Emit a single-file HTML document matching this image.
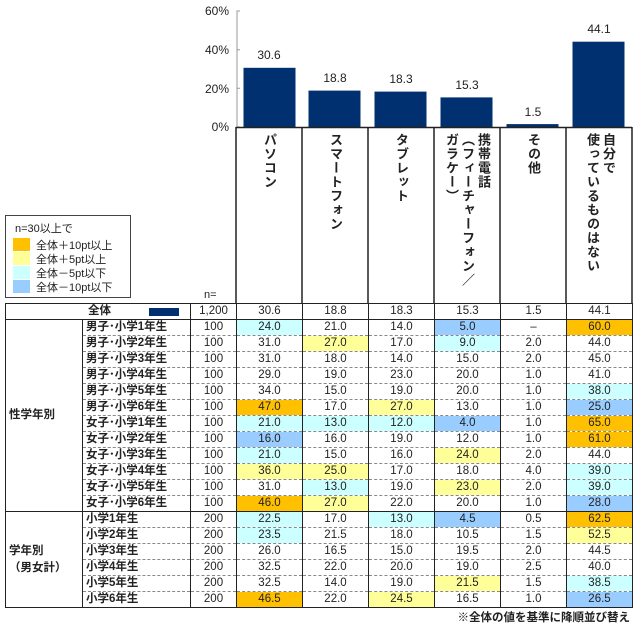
<!DOCTYPE html>
<html><head><meta charset="utf-8"><style>
body{margin:0;width:638px;height:625px;background:#fff;position:relative;overflow:hidden;font-family:"Liberation Sans","Noto Sans CJK JP",sans-serif;color:#222}
table{position:absolute;left:5px;top:303px;border-collapse:collapse;table-layout:fixed;font-size:11.5px}
td{height:15px;padding:0;border-left:1.5px solid #222;border-right:1.5px solid #222;border-bottom:1px dashed #888;text-align:center;line-height:15px;white-space:nowrap;overflow:hidden}
td.l{text-align:left;padding-left:3px;font-weight:bold}
td.g{text-align:left;padding-left:3px;font-weight:bold;border-bottom:1.5px solid #222;line-height:17px}
tr.top td{border-top:1.5px solid #222;border-bottom:1.5px solid #222}
tr.last td{border-bottom:1.5px solid #222}
.o{background:#FFC000}.y{background:#FFFF99}.c{background:#CCFFFF}.b{background:#99CCFF}
.hd{position:absolute;top:133px;writing-mode:vertical-rl;font-size:13px;font-weight:bold;line-height:16px;letter-spacing:1px;white-space:nowrap}
</style></head><body>
<svg width="638" height="305" style="position:absolute;left:0;top:0" font-family="Liberation Sans, Noto Sans CJK JP, sans-serif">
<g font-size="12" fill="#222" text-anchor="end">
<text x="229" y="15">60%</text><text x="229" y="54">40%</text><text x="229" y="93">20%</text><text x="229" y="131">0%</text>
</g>
<path d="M240 11H237V127M237 49.7H240M237 88.3H240M237 127H240" stroke="#999" fill="none"/>
<g fill="#003070">
<rect x="243.5" y="67.8" width="52" height="59.2"/>
<rect x="308.5" y="90.6" width="52" height="36.4"/>
<rect x="374.5" y="91.6" width="52" height="35.4"/>
<rect x="440.5" y="97.4" width="52" height="29.6"/>
<rect x="506.5" y="124.1" width="52" height="2.9"/>
<rect x="572.5" y="41.7" width="52" height="85.3"/>
</g>
<g font-size="12" fill="#222" text-anchor="middle">
<text x="269" y="59">30.6</text><text x="335" y="82">18.8</text><text x="401" y="83">18.3</text><text x="467" y="89">15.3</text><text x="533" y="116">1.5</text><text x="599" y="33">44.1</text>
</g>
<path d="M236 127V303M302 127V303M368 127V303M434 127V303M500 127V303M566 127V303M632 127V303M236 127.5H632" stroke="#222" stroke-width="1.5" fill="none"/>
<text x="204" y="298" font-size="11" fill="#222">n=</text>
<rect x="5.5" y="215.5" width="125" height="82" fill="#fff" stroke="#444"/>
<g font-size="11" fill="#222">
<text x="15" y="232">n=30以上で</text>
<rect x="13" y="238" width="17" height="13" fill="#FFC000"/><text x="36" y="249">全体＋10pt以上</text>
<rect x="13" y="252" width="17" height="13" fill="#FFFF99"/><text x="36" y="263">全体＋5pt以上</text>
<rect x="13" y="266" width="17" height="13" fill="#CCFFFF"/><text x="36" y="277">全体－5pt以下</text>
<rect x="13" y="280" width="17" height="13" fill="#99CCFF"/><text x="36" y="291">全体－10pt以下</text>
</g>
</svg>
<div class="hd" style="left:261px">パソコン</div>
<div class="hd" style="left:327px">スマートフォン</div>
<div class="hd" style="left:393px">タブレット</div>
<div class="hd" style="left:443px">携帯電話<br>（フィーチャーフォン／<br>ガラケー）</div>
<div class="hd" style="left:584px">自分で<br>使っているものはない</div>
<div class="hd" style="left:525px">その他</div>
<table>
<colgroup><col style="width:77px"><col style="width:108px"><col style="width:46px"><col style="width:66px"><col style="width:66px"><col style="width:66px"><col style="width:66px"><col style="width:66px"><col style="width:66px"></colgroup>
<tr class="top"><td colspan="2" style="text-align:left;padding-left:82px;font-weight:bold;position:relative">全体<span style="position:absolute;left:143px;top:4px;width:30px;height:8px;background:#003070"></span></td><td>1,200</td><td>30.6</td><td>18.8</td><td>18.3</td><td>15.3</td><td>1.5</td><td>44.1</td></tr>
<tr><td class="g" rowspan="12">性学年別</td><td class="l">男子･小学1年生</td><td>100</td><td class="c">24.0</td><td>21.0</td><td>14.0</td><td class="b">5.0</td><td>–</td><td class="o">60.0</td></tr>
<tr><td class="l">男子･小学2年生</td><td>100</td><td>31.0</td><td class="y">27.0</td><td>17.0</td><td class="c">9.0</td><td>2.0</td><td>44.0</td></tr>
<tr><td class="l">男子･小学3年生</td><td>100</td><td>31.0</td><td>18.0</td><td>14.0</td><td>15.0</td><td>2.0</td><td>45.0</td></tr>
<tr><td class="l">男子･小学4年生</td><td>100</td><td>29.0</td><td>19.0</td><td>23.0</td><td>20.0</td><td>1.0</td><td>41.0</td></tr>
<tr><td class="l">男子･小学5年生</td><td>100</td><td>34.0</td><td>15.0</td><td>19.0</td><td>20.0</td><td>1.0</td><td class="c">38.0</td></tr>
<tr><td class="l">男子･小学6年生</td><td>100</td><td class="o">47.0</td><td>17.0</td><td class="y">27.0</td><td>13.0</td><td>1.0</td><td class="b">25.0</td></tr>
<tr><td class="l">女子･小学1年生</td><td>100</td><td class="c">21.0</td><td class="c">13.0</td><td class="c">12.0</td><td class="b">4.0</td><td>1.0</td><td class="o">65.0</td></tr>
<tr><td class="l">女子･小学2年生</td><td>100</td><td class="b">16.0</td><td>16.0</td><td>19.0</td><td>12.0</td><td>1.0</td><td class="o">61.0</td></tr>
<tr><td class="l">女子･小学3年生</td><td>100</td><td class="c">21.0</td><td>15.0</td><td>16.0</td><td class="y">24.0</td><td>2.0</td><td>44.0</td></tr>
<tr><td class="l">女子･小学4年生</td><td>100</td><td class="y">36.0</td><td class="y">25.0</td><td>17.0</td><td>18.0</td><td>4.0</td><td class="c">39.0</td></tr>
<tr><td class="l">女子･小学5年生</td><td>100</td><td>31.0</td><td class="c">13.0</td><td>19.0</td><td class="y">23.0</td><td>2.0</td><td class="c">39.0</td></tr>
<tr class="last"><td class="l">女子･小学6年生</td><td>100</td><td class="o">46.0</td><td class="y">27.0</td><td>22.0</td><td>20.0</td><td>1.0</td><td class="b">28.0</td></tr>
<tr><td class="g" rowspan="6">学年別<br>（男女計）</td><td class="l">小学1年生</td><td>200</td><td class="c">22.5</td><td>17.0</td><td class="c">13.0</td><td class="b">4.5</td><td>0.5</td><td class="o">62.5</td></tr>
<tr><td class="l">小学2年生</td><td>200</td><td class="c">23.5</td><td>21.5</td><td>18.0</td><td>10.5</td><td>1.5</td><td class="y">52.5</td></tr>
<tr><td class="l">小学3年生</td><td>200</td><td>26.0</td><td>16.5</td><td>15.0</td><td>19.5</td><td>2.0</td><td>44.5</td></tr>
<tr><td class="l">小学4年生</td><td>200</td><td>32.5</td><td>22.0</td><td>20.0</td><td>19.0</td><td>2.5</td><td>40.0</td></tr>
<tr><td class="l">小学5年生</td><td>200</td><td>32.5</td><td>14.0</td><td>19.0</td><td class="y">21.5</td><td>1.5</td><td class="c">38.5</td></tr>
<tr class="last"><td class="l">小学6年生</td><td>200</td><td class="o">46.5</td><td>22.0</td><td class="y">24.5</td><td>16.5</td><td>1.0</td><td class="b">26.5</td></tr>
</table>
<div style="position:absolute;right:8px;top:609px;font-size:11.5px;font-weight:bold">※全体の値を基準に降順並び替え</div>
</body></html>
